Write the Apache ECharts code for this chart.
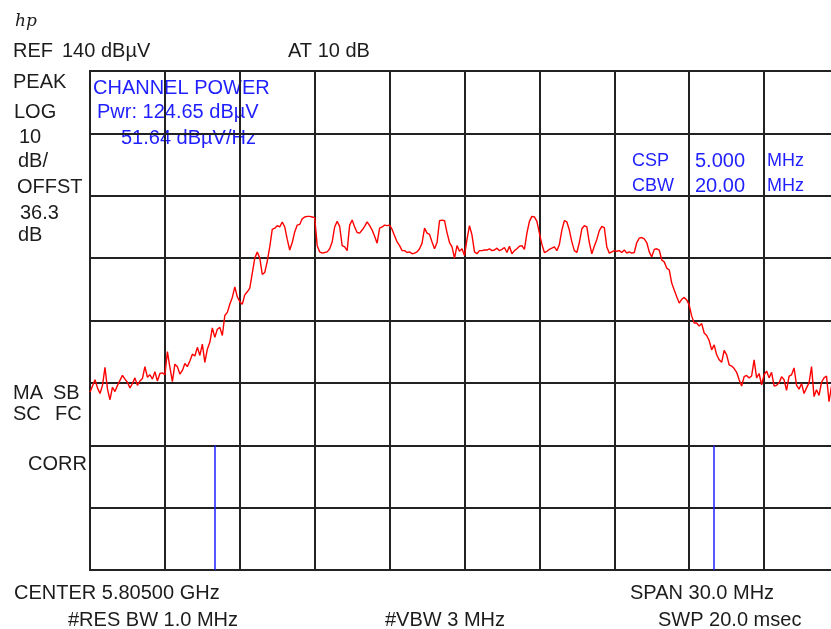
<!DOCTYPE html>
<html>
<head>
<meta charset="utf-8">
<script src="https://cdn.jsdelivr.net/npm/echarts@6/dist/echarts.min.js"></script>
<style>
html,body{margin:0;padding:0;background:#fff;}
#chart{width:831px;height:629px;}
</style>
</head>
<body>
<div id="chart"></div>
<script>
// Sweep settings
const startMHz = 5790;      // CENTER 5.805 GHz - 15 MHz
const stopMHz = 5820;       // CENTER 5.805 GHz + 15 MHz
const freqStepMHz = 0.1;
const refLevel = 140;       // dBµV
const bottomLevel = 60;     // REF - 8 div * 10 dB

// Trace levels (dBµV), one per 0.1 MHz from 5790.0 to 5820.0 MHz
const traceLevels = [
  88.5, 89.5, 90.5, 89.2, 88.3, 89.6, 92.5, 89.0, 87.3, 89.3,
  88.6, 89.6, 90.4, 91.2, 90.6, 90.1, 89.2, 89.9, 90.8, 89.6,
  90.3, 90.7, 92.6, 90.9, 91.3, 90.6, 91.8, 90.3, 91.5, 91.6,
  91.3, 95.0, 92.5, 90.2, 93.0, 92.6, 91.4, 92.0, 93.1, 92.6,
  93.5, 94.6, 94.3, 95.7, 94.4, 96.2, 93.3, 95.4, 96.5, 98.8,
  97.3, 98.6, 98.9, 97.6, 100.8, 101.3, 102.6, 103.7, 105.4, 103.8,
  103.0, 102.6, 104.1, 104.6, 105.2, 107.6, 110.0, 111.0, 110.0, 107.4,
  107.7, 109.5, 111.8, 114.6, 114.8, 115.2, 115.0, 115.8, 115.0, 113.0,
  111.3, 112.5, 114.2, 115.3, 115.4, 116.3, 116.6, 116.7, 116.7, 116.6,
  116.5, 112.0, 111.0, 110.8, 110.9, 111.0, 111.5, 112.6, 115.0, 115.9,
  115.1, 112.0, 111.8, 111.2, 115.3, 116.1, 115.0, 114.1, 114.0, 114.5,
  115.1, 115.8, 115.2, 114.5, 113.5, 112.4, 114.8, 115.0, 115.3, 115.2,
  115.3, 114.6, 113.6, 112.6, 112.0, 111.2, 111.2, 110.9, 111.0, 110.7,
  110.8, 111.0, 111.5, 112.4, 114.8, 114.0, 113.8, 112.6, 111.5, 112.5,
  116.0, 116.1, 116.0, 114.1, 112.5, 111.8, 110.0, 112.0, 111.1, 111.5,
  110.4, 113.0, 115.2, 113.7, 111.0, 110.7, 111.2, 111.2, 111.3, 111.3,
  111.5, 111.2, 111.3, 111.6, 111.2, 111.4, 111.7, 110.9, 111.9, 110.7,
  111.2, 111.5, 111.9, 112.0, 111.4, 114.0, 115.9, 116.7, 116.6, 115.9,
  114.0, 112.2, 110.9, 111.1, 111.4, 111.6, 111.8, 111.2, 112.2, 114.5,
  116.0, 115.8, 114.5, 112.6, 111.2, 110.9, 112.5, 114.7, 115.2, 115.0,
  112.5, 110.7, 111.9, 113.0, 114.4, 115.1, 114.9, 111.8, 110.8, 111.0,
  111.2, 111.1, 111.2, 110.9, 111.3, 110.8, 111.0, 110.8, 110.9, 112.5,
  113.2, 113.3, 113.1, 112.5, 111.0, 110.2, 111.4, 111.5, 111.3, 109.7,
  109.4, 108.4, 108.1, 106.0, 104.9, 103.8, 102.8, 103.4, 103.7, 103.3,
  102.5, 100.7, 99.6, 99.6, 99.1, 99.5, 98.0, 97.6, 96.8, 95.3,
  96.1, 94.5, 93.7, 93.3, 95.2, 94.5, 92.9, 92.7, 92.3, 91.7,
  90.5, 89.5, 91.0, 91.2, 90.8, 91.1, 93.7, 90.8, 91.5, 89.7,
  91.3, 91.9, 90.8, 91.7, 89.5, 89.6, 90.0, 91.0, 90.5, 88.8,
  91.1, 91.3, 92.4, 89.6, 89.0, 89.9, 88.3, 89.2, 90.0, 92.6,
  87.8, 88.9, 88.0, 90.1, 90.8, 91.1, 87.0, 89.5, 90.2, 89.0,
  89.6
];

// Channel-bandwidth markers (CBW 20 MHz around center)
const channelEdgesMHz = [5795, 5815];
const channelMarkTop = 80;

// Annotation texts
const headerTexts = ['REF', '140 dBµV', 'AT 10 dB'];
const sideTexts = ['PEAK', 'LOG', '10', 'dB/', 'OFFST', '36.3', 'dB', 'MA', 'SB', 'SC', 'FC', 'CORR'];
const channelTexts = ['CHANNEL POWER', 'Pwr: 124.65 dBµV', '51.64 dBµV/Hz'];
const cspTexts = ['CSP', '5.000', 'MHz', 'CBW', '20.00', 'MHz'];
const footerTexts = ['CENTER 5.80500 GHz', 'SPAN 30.0 MHz', '#RES BW 1.0 MHz', '#VBW 3 MHz', 'SWP 20.0 msec'];

const traceData = traceLevels.map((v, i) => [(startMHz * 10 + i) / 10, v]);

const FONT = '"Liberation Sans", Arial, sans-serif';
const FS = 20;
const BLACK = '#1c1c1c';
const BLUE = '#1f1fff';

function txt(text, x, y, color, extra) {
  return {
    type: 'text', x: x, y: y, silent: true,
    style: Object.assign({
      text: text, fill: color || BLACK, fontSize: FS, fontFamily: FONT,
      align: 'left', verticalAlign: 'middle'
    }, extra || {})
  };
}

const small = {fontSize: 18};

const graphics = [
  txt('hp', 15, 22, BLACK, {fontStyle: 'italic', fontFamily: '"DejaVu Serif", serif', fontSize: 17}),
  txt(headerTexts[0], 13, 51),
  txt(headerTexts[1], 62, 51),
  txt(headerTexts[2], 288, 51),
  txt(sideTexts[0], 13, 82),
  txt(sideTexts[1], 14, 112),
  txt(sideTexts[2], 19, 137),
  txt(sideTexts[3], 18, 161),
  txt(sideTexts[4], 17, 187),
  txt(sideTexts[5], 20, 213),
  txt(sideTexts[6], 18, 235),
  txt(sideTexts[7], 13, 393),
  txt(sideTexts[8], 53, 393),
  txt(sideTexts[9], 13, 414),
  txt(sideTexts[10], 55, 414),
  txt(sideTexts[11], 28, 464),
  txt(channelTexts[0], 93, 88, BLUE),
  txt(channelTexts[1], 97, 112, BLUE),
  txt(channelTexts[2], 121, 138, BLUE),
  txt(cspTexts[0], 632, 161, BLUE, small),
  txt(cspTexts[1], 695, 161, BLUE),
  txt(cspTexts[2], 767, 161, BLUE, small),
  txt(cspTexts[3], 632, 186, BLUE, small),
  txt(cspTexts[4], 695, 186, BLUE),
  txt(cspTexts[5], 767, 186, BLUE, small),
  txt(footerTexts[0], 14, 593),
  txt(footerTexts[1], 630, 593),
  txt(footerTexts[2], 68, 620),
  txt(footerTexts[3], 385, 620),
  txt(footerTexts[4], 658, 620)
];

const chart = echarts.init(document.getElementById('chart'), null, {renderer: 'canvas'});
chart.setOption({
  animation: false,
  backgroundColor: '#ffffff',
  grid: {
    left: 90, top: 71, width: 749, height: 499,
    outerBoundsMode: 'none', containLabel: false,
    show: true, borderColor: '#222', borderWidth: 2, backgroundColor: 'transparent'
  },
  xAxis: {
    type: 'value', min: startMHz, max: stopMHz, interval: 3,
    axisLine: {show: false}, axisTick: {show: false}, axisLabel: {show: false},
    splitLine: {show: true, lineStyle: {color: '#222', width: 2}}
  },
  yAxis: {
    type: 'value', min: bottomLevel, max: refLevel, interval: 10,
    axisLine: {show: false}, axisTick: {show: false}, axisLabel: {show: false},
    splitLine: {show: true, lineStyle: {color: '#222', width: 2}}
  },
  series: [
    {
      type: 'line', data: traceData, symbol: 'none', clip: true,
      lineStyle: {color: '#ff0000', width: 1.4},
      z: 3
    },
    {
      type: 'line', data: [], symbol: 'none',
      markLine: {
        silent: true, symbol: ['none', 'none'], label: {show: false},
        lineStyle: {color: BLUE, width: 1.5, type: 'solid'},
        data: channelEdgesMHz.map(f => [{coord: [f, bottomLevel]}, {coord: [f, channelMarkTop]}])
      },
      z: 2
    }
  ],
  graphic: graphics
});
</script>
</body>
</html>
